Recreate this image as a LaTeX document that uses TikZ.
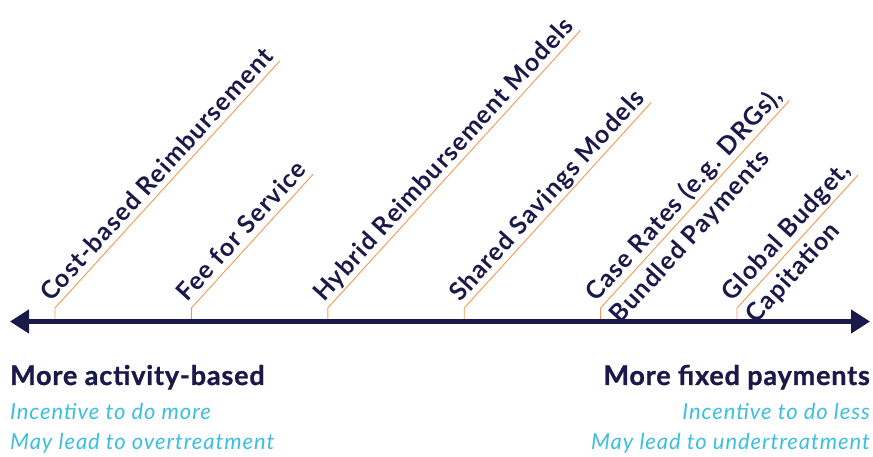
\documentclass[tikz,border=0pt]{standalone}
\usepackage{fontspec}
\setmainfont{Lato}
\usetikzlibrary{arrows.meta}

\definecolor{navy}{RGB}{27,25,73}
\definecolor{tickorange}{RGB}{245,152,80}
\definecolor{effectblue}{RGB}{60,190,224}

\begin{document}
\begin{tikzpicture}[x=1pt,y=1pt,
        axis/.style={draw=navy, line width=4.5pt, {Triangle[length=19pt,width=23pt]}-{Triangle[length=19pt,width=23pt]}},
        tick/.style={draw=tickorange, line width=0.9pt},
        payment/.style={rotate=47.7, text=navy, font=\bfseries\fontsize{25}{33}\selectfont\addfontfeatures{LetterSpace=4.5}, inner xsep=1pt, inner ysep=6pt, align=left, text depth=0pt},
        oneline/.style={anchor=south west},
        twoline/.style={anchor=west},
        heading/.style={text=navy, font=\bfseries\fontsize{27}{30}\selectfont\addfontfeatures{LetterSpace=3,FakeBold=1}, inner sep=0pt},
        effect/.style={text=effectblue, font=\itshape\fontsize{22}{25}\selectfont\addfontfeatures{LetterSpace=4.3}, inner sep=0pt}
        ]
        \useasboundingbox (0,0) rectangle (873,457);

        \coordinate (left) at (10,135.5);
        \coordinate (right) at (870,135.5);

        % payment models along the scale
        \foreach \xpos/\kind/\tip/\name[count=\i] in {
            55/oneline/south east/{Cost-based Reimbursement},
            191.4/oneline/south east/{Fee for Service},
            327.8/oneline/south east/{Hybrid Reimbursement Models},
            464.2/oneline/south east/{Shared Savings Models},
            600.6/twoline/east/{Case Rates (e.g. DRGs),\\Bundled Payments},
            737/twoline/east/{Global Budget,\\Capitation}} {
            \coordinate (foot\i) at (\xpos,135.5);
            \coordinate (bend\i) at (\xpos,149);
            \node[payment, \kind] (model\i) at (bend\i) {\name};
            \draw[tick] (foot\i) -- (bend\i) -- (model\i.\tip);
        }

        \draw[axis] (left) -- (right);

        % ends of the scale
        \node[heading, anchor=base west] (activity) at (10,72) {More activity-based};
        \node[effect, anchor=base west] (domore) at (10,37) {Incentive to do more};
        \node[effect, anchor=base west] (over) at (10,7) {May lead to overtreatment};

        \node[heading, anchor=base east] (fixed) at (870,72) {More fixed payments};
        \node[effect, anchor=base east] (doless) at (870,37) {Incentive to do less};
        \node[effect, anchor=base east] (under) at (870,7) {May lead to undertreatment};
    \end{tikzpicture}
\end{document}
